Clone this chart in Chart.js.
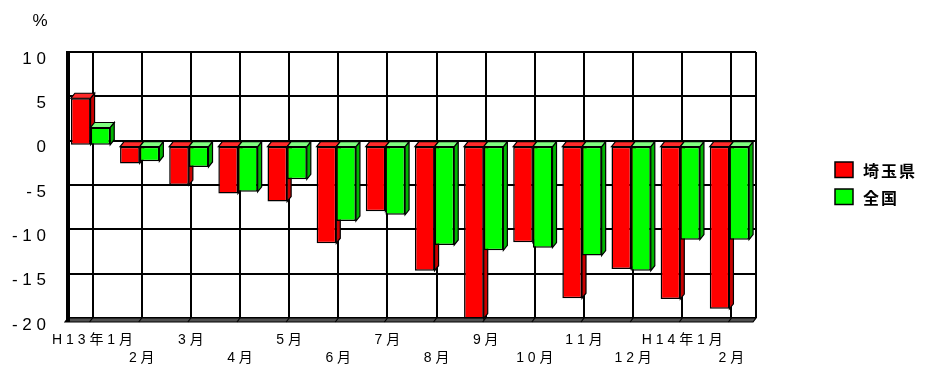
<!DOCTYPE html>
<html><head><meta charset="utf-8">
<script src="https://cdn.jsdelivr.net/npm/chart.js@4/dist/chart.umd.min.js"></script>
<style>html,body{margin:0;padding:0;background:#fff;}</style>
</head><body>
<canvas id="c" width="928" height="365"></canvas>
<script>
const categories = ['H 1 3 年 1 月','2 月','3 月','4 月','5 月','6 月','7 月','8 月','9 月','1 0 月','1 1 月','1 2 月','H 1 4 年 1 月','2 月'];
const seriesNames = ['埼玉県','全国'];
const saitama = [5.35,-2.0,-4.45,-5.4,-6.3,-11.0,-7.4,-14.1,-19.5,-10.9,-17.2,-13.9,-17.3,-18.4];
const zenkoku = [2.05,-1.75,-2.4,-5.2,-3.8,-8.5,-7.8,-11.2,-11.8,-11.5,-12.4,-14.1,-10.6,-10.6];
const yTicks = [10,5,0,-5,-10,-15,-20];
const yTickLabels = ['1 0','5','0','- 5','- 1 0','- 1 5','- 2 0'];
const unitLabel = '%';

const FONT = "'Liberation Sans', Arial, 'Noto Sans CJK JP', sans-serif";
const frontColors = ['#ff0000','#00ff00'];
const topColors = ['#ff2a2a','#80ff80'];
const sideColors = ['#c80000','#00b400'];
const DX = 4, DY = 5, SHIFT_X = -2, SHIFT_Y = 5;

const labels = categories.map((n,i)=> i%2===0 ? [n,''] : ['',n]);

function poly(ctx, pts, fill){
  ctx.beginPath();
  ctx.moveTo(pts[0][0],pts[0][1]);
  for(let i=1;i<pts.length;i++) ctx.lineTo(pts[i][0],pts[i][1]);
  ctx.closePath();
  ctx.fillStyle = fill; ctx.fill();
  ctx.lineWidth = 1.2; ctx.strokeStyle = '#000'; ctx.stroke();
}

const threeD = {
  id:'threeD',
  beforeDatasetsDraw(chart){
    const {ctx, chartArea:a} = chart;
    ctx.save();
    poly(ctx, [[a.left,a.bottom],[a.right,a.bottom],[a.right-3,a.bottom+4],[a.left-3,a.bottom+4]], '#505050');
    const xs = chart.scales.x;
    ctx.lineWidth = 1.2; ctx.strokeStyle='#000';
    for(let i=0;i<categories.length;i++){
      const px = xs.getPixelForTick(i);
      ctx.beginPath(); ctx.moveTo(px,a.bottom); ctx.lineTo(px-3,a.bottom+4); ctx.stroke();
    }
    ctx.lineWidth = 2;
    ctx.beginPath(); ctx.moveTo(a.right,a.top); ctx.lineTo(a.right,a.bottom); ctx.stroke();
    ctx.fillStyle = '#000';
    ctx.fillRect(a.left-2, a.top-1, 4, a.bottom - a.top + 5);
    ctx.translate(SHIFT_X, SHIFT_Y);
    const metas = [chart.getDatasetMeta(0), chart.getDatasetMeta(1)];
    for(let i=0;i<categories.length;i++){
      for(let d=0; d<2; d++){
        const el = metas[d].data[i];
        const p = el.getProps(['x','y','base','width'], true);
        const x1 = p.x - p.width/2, x2 = p.x + p.width/2;
        const top = Math.min(p.y,p.base), bot = Math.max(p.y,p.base);
        poly(ctx, [[x2,top],[x2+DX,top-DY],[x2+DX,bot-DY],[x2,bot]], sideColors[d]);
        poly(ctx, [[x1,top],[x2,top],[x2+DX,top-DY],[x1+DX,top-DY]], topColors[d]);
      }
    }
  },
  afterDatasetsDraw(chart){
    chart.ctx.restore();
  },
  afterDraw(chart){
    const ctx = chart.ctx;
    ctx.save();
    ctx.fillStyle = '#000';
    ctx.font = '17px ' + FONT;
    ctx.textAlign = 'center'; ctx.textBaseline = 'middle';
    ctx.fillText(unitLabel, 40, 21);
    const rows = [170, 197];
    ctx.font = "bold 16px 'Noto Sans CJK JP', sans-serif";
    ctx.textAlign = 'left';
    try { ctx.letterSpacing = '2px'; } catch(e){}
    for(let d=0; d<2; d++){
      const cy = rows[d];
      ctx.fillStyle = frontColors[d];
      ctx.fillRect(835, cy-8, 18, 15.5);
      ctx.lineWidth = 1.5; ctx.strokeStyle = '#000';
      ctx.strokeRect(835, cy-8, 18, 15.5);
      ctx.fillStyle = '#000';
      ctx.fillText(chart.data.datasets[d].label, 863, cy+1);
    }
    ctx.restore();
  }
};

new Chart(document.getElementById('c'), {
  type:'bar',
  data:{
    labels: labels,
    datasets:[
      {label: seriesNames[0], data: saitama, backgroundColor: frontColors[0], borderColor:'#000', borderWidth:1.5, borderSkipped:false, clip:false},
      {label: seriesNames[1], data: zenkoku, backgroundColor: frontColors[1], borderColor:'#000', borderWidth:1.5, borderSkipped:false, clip:false}
    ]
  },
  options:{
    responsive:false,
    devicePixelRatio:1,
    animation:false,
    categoryPercentage:0.8,
    barPercentage:1.0,
    layout:{padding:{left:0, top:52, right:172, bottom:0}},
    plugins:{legend:{display:false}, tooltip:{enabled:false}, title:{display:false}},
    scales:{
      x:{
        offset:true,
        grid:{offset:false, color:'#000', lineWidth:2, drawTicks:false},
        border:{display:false},
        ticks:{autoSkip:false, maxRotation:0, minRotation:0, padding:13, color:'#000', font:{family:FONT, size:14, lineHeight:1.28}},
        afterFit(s){ s.height = 47; }
      },
      y:{
        min:-20, max:10,
        afterBuildTicks(s){ s.ticks = yTicks.map(v=>({value:v})); },
        grid:{color:'#000', lineWidth:2, drawTicks:false},
        border:{display:false},
        ticks:{padding:22, labelOffset:7, color:'#000', font:{family:FONT, size:17},
          callback:(v)=> yTickLabels[yTicks.indexOf(v)]},
        afterFit(s){ s.width = 68; }
      }
    }
  },
  plugins:[threeD]
});
</script>
</body></html>
